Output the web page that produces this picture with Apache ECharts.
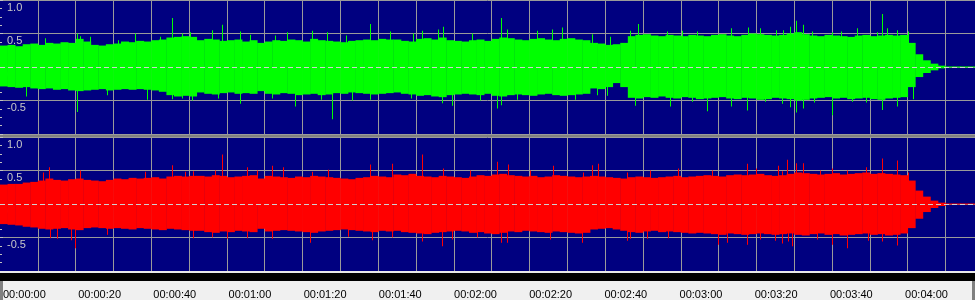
<!DOCTYPE html>
<html>
<head>
<meta charset="utf-8">
<script src="https://cdn.jsdelivr.net/npm/echarts@6/dist/echarts.min.js"></script>
<style>
html,body{margin:0;padding:0;background:#808080;}
#chart{width:975px;height:300px;}
</style>
</head>
<body>
<div id="chart"></div>
<script>
// ---- DATA ----
const BIN_SECONDS = 2;          // each envelope value covers 2 s of audio
const AXIS_MAX_SECONDS = 257.8; // visible time span

const tickLabels = ['00:00:00','00:00:20','00:00:40','00:01:00','00:01:20','00:01:40','00:02:00',
                    '00:02:20','00:02:40','00:03:00','00:03:20','00:03:40','00:04:00'];

// Left channel (green) envelope, per 2-second bin
const greenTop = [
 0.32,0.33,0.31,0.34,0.35,0.33,0.36,0.35,0.37,0.36,0.42,0.38,0.33,0.32,0.34,0.35,0.38,0.37,0.39,0.38,0.40,0.41,0.44,0.45,0.46,0.45,
 0.40,0.42,0.41,0.39,0.40,0.41,0.38,0.40,0.36,0.38,0.40,0.39,0.41,0.40,0.38,0.42,0.40,0.39,0.38,0.37,0.39,0.40,0.41,0.40,0.42,0.41,
 0.41,0.39,0.38,0.42,0.43,0.41,0.44,0.40,0.39,0.38,0.40,0.41,0.39,0.42,0.44,0.43,0.41,0.40,0.42,0.43,0.41,0.40,0.42,0.43,0.41,0.40,
 0.36,0.35,0.33,0.34,0.36,0.46,0.48,0.49,0.47,0.46,0.48,0.47,0.46,0.48,0.47,0.46,0.48,0.49,0.47,0.46,0.48,0.50,0.49,0.48,0.47,0.48,
 0.50,0.52,0.49,0.47,0.46,0.48,0.47,0.46,0.45,0.47,0.48,0.46,0.47,0.48,0.47,0.48,0.36,0.19,0.10,0.05,0.02,0.008,0.008,0.008,0.008,0.008
];
const greenBottom = [
 -0.29,-0.30,-0.31,-0.30,-0.32,-0.33,-0.32,-0.34,-0.33,-0.35,-0.36,-0.35,-0.34,-0.33,-0.35,-0.34,-0.33,-0.34,-0.33,-0.34,-0.35,-0.37,-0.42,-0.44,-0.43,-0.44,
 -0.38,-0.40,-0.41,-0.39,-0.38,-0.40,-0.39,-0.40,-0.36,-0.40,-0.41,-0.39,-0.40,-0.42,-0.41,-0.40,-0.42,-0.41,-0.39,-0.40,-0.38,-0.39,-0.40,-0.41,-0.40,-0.39,
 -0.38,-0.40,-0.41,-0.43,-0.42,-0.44,-0.45,-0.42,-0.41,-0.40,-0.41,-0.42,-0.40,-0.43,-0.44,-0.42,-0.41,-0.42,-0.43,-0.41,-0.40,-0.42,-0.43,-0.42,-0.41,-0.40,
 -0.32,-0.33,-0.30,-0.24,-0.30,-0.46,-0.47,-0.45,-0.46,-0.44,-0.46,-0.47,-0.45,-0.46,-0.48,-0.47,-0.46,-0.45,-0.47,-0.48,-0.46,-0.47,-0.49,-0.48,-0.46,-0.47,
 -0.48,-0.50,-0.49,-0.47,-0.46,-0.45,-0.47,-0.46,-0.48,-0.47,-0.46,-0.48,-0.49,-0.47,-0.46,-0.45,-0.30,-0.15,-0.09,-0.05,-0.02,-0.008,-0.008,-0.008,-0.008,-0.008
];
// Right channel (red) envelope, per 2-second bin
const redTop = [
 0.29,0.30,0.30,0.32,0.33,0.35,0.38,0.36,0.35,0.37,0.38,0.36,0.35,0.34,0.36,0.38,0.37,0.39,0.38,0.39,0.40,0.38,0.41,0.42,0.41,0.42,
 0.42,0.41,0.43,0.42,0.40,0.41,0.42,0.43,0.38,0.42,0.41,0.40,0.39,0.41,0.40,0.42,0.41,0.40,0.39,0.38,0.37,0.39,0.40,0.42,0.41,0.40,
 0.44,0.43,0.45,0.42,0.41,0.40,0.42,0.41,0.40,0.39,0.41,0.43,0.42,0.44,0.45,0.43,0.42,0.41,0.42,0.40,0.41,0.43,0.42,0.41,0.40,0.41,
 0.42,0.41,0.40,0.39,0.38,0.40,0.41,0.40,0.39,0.40,0.41,0.42,0.40,0.41,0.42,0.43,0.42,0.41,0.43,0.44,0.43,0.44,0.45,0.43,0.42,0.43,
 0.45,0.47,0.46,0.45,0.44,0.45,0.46,0.44,0.45,0.46,0.47,0.45,0.46,0.45,0.44,0.43,0.35,0.20,0.11,0.05,0.02,0.008,0.008,0.008,0.008,0.008
];
const redBottom = [
 -0.30,-0.31,-0.32,-0.34,-0.35,-0.37,-0.38,-0.37,-0.36,-0.38,-0.39,-0.36,-0.35,-0.36,-0.37,-0.36,-0.37,-0.38,-0.36,-0.37,-0.38,-0.39,-0.37,-0.38,-0.39,-0.40,
 -0.40,-0.42,-0.43,-0.41,-0.42,-0.40,-0.41,-0.42,-0.37,-0.41,-0.40,-0.39,-0.40,-0.41,-0.42,-0.43,-0.41,-0.40,-0.39,-0.38,-0.39,-0.40,-0.41,-0.42,-0.40,-0.41,
 -0.40,-0.42,-0.43,-0.44,-0.45,-0.43,-0.42,-0.41,-0.40,-0.41,-0.43,-0.42,-0.44,-0.45,-0.43,-0.41,-0.42,-0.40,-0.41,-0.42,-0.43,-0.41,-0.42,-0.43,-0.44,-0.43,
 -0.38,-0.37,-0.36,-0.38,-0.40,-0.42,-0.43,-0.41,-0.40,-0.42,-0.41,-0.42,-0.43,-0.44,-0.43,-0.44,-0.45,-0.46,-0.44,-0.45,-0.46,-0.45,-0.44,-0.45,-0.46,-0.45,
 -0.44,-0.46,-0.47,-0.45,-0.44,-0.46,-0.45,-0.47,-0.46,-0.45,-0.44,-0.46,-0.45,-0.47,-0.46,-0.44,-0.36,-0.22,-0.12,-0.06,-0.03,-0.008,-0.008,-0.008,-0.008,-0.008
];

// Individual peaks sticking out of the envelope: [seconds, amplitude]
const greenPeaksUp = [[11.9,0.43],[20.3,0.50],[21.1,0.46],[23.8,0.45],[31.3,0.40],[35.7,0.50],[42.3,0.45],[45.4,0.73],[48.0,0.50],[50.2,0.52],
 [56.0,0.55],[58.6,0.63],[63.5,0.53],[66.1,0.48],[72.7,0.47],[75.8,0.52],[82.4,0.54],[86.4,0.52],[91.6,0.47],[97.8,0.64],[103.0,0.53],
 [109.3,0.50],[111.5,0.54],[115.9,0.56],[117.2,0.60],[124.7,0.50],[132.6,0.73],[134.0,0.56],[141.9,0.54],[145.9,0.56],[148.5,0.59],
 [156.4,0.49],[161.3,0.45],[166.6,0.54],[168.8,0.64],[176.3,0.53],[180.2,0.54],[184.2,0.53],[193.4,0.58],[197.9,0.59],[200.9,0.58],[205.3,0.55],
 [207.1,0.55],[208.9,0.60],[210.5,0.69],[212.2,0.63],[214.6,0.53],[219.9,0.52],[222.5,0.53],[226.7,0.58],[231.8,0.52],[233.3,0.79],[234.6,0.58],[237.1,0.55],[240.2,0.53]];
const greenPeaksDown = [[7.0,-0.44],[20.3,-0.67],[28.2,-0.42],[38.8,-0.49],[45.4,-0.48],[48.0,-0.47],[50.7,-0.50],[57.7,-0.47],[63.5,-0.55],[71.8,-0.47],
 [78.0,-0.59],[85.0,-0.49],[87.9,-0.78],[93.0,-0.50],[97.8,-0.49],[108.8,-0.47],[116.8,-0.54],[119.4,-0.58],[126.9,-0.50],[131.3,-0.62],[132.6,-0.57],
 [136.6,-0.49],[152.0,-0.49],[157.8,-0.42],[160.4,-0.43],[167.9,-0.58],[177.1,-0.59],[182.9,-0.52],[187.0,-0.66],[193.2,-0.59],[197.6,-0.65],[202.2,-0.52],
 [206.7,-0.55],[208.9,-0.60],[210.5,-0.68],[212.2,-0.62],[215.1,-0.53],[220.1,-0.72],[225.2,-0.52],[229.1,-0.53],[233.1,-0.64],[237.1,-0.59],[241.3,-0.48]];
const redPeaksUp = [[11.5,0.47],[13.0,0.55],[21.1,0.50],[38.3,0.48],[45.4,0.58],[48.9,0.48],[51.1,0.49],[56.8,0.50],[58.6,0.74],[65.2,0.55],[67.9,0.50],
 [71.8,0.57],[74.9,0.55],[82.4,0.48],[86.8,0.51],[97.8,0.59],[103.6,0.60],[111.5,0.74],[117.2,0.53],[124.3,0.50],[131.3,0.63],[134.4,0.59],[140.1,0.50],
 [146.3,0.57],[154.2,0.47],[156.4,0.58],[158.2,0.60],[165.7,0.47],[171.9,0.50],[179.2,0.53],[188.2,0.50],[197.6,0.60],[200.0,0.53],[205.8,0.57],
 [206.7,0.49],[208.2,0.66],[210.5,0.61],[212.2,0.61],[216.8,0.50],[219.9,0.53],[223.9,0.50],[229.0,0.55],[233.3,0.68],[237.1,0.65],[240.2,0.47]];
const redPeaksDown = [[13.2,-0.51],[15.0,-0.52],[18.9,-0.54],[19.8,-0.66],[28.2,-0.46],[51.1,-0.51],[56.0,-0.50],[60.0,-0.52],[65.2,-0.51],[71.8,-0.52],
 [82.0,-0.58],[92.1,-0.49],[98.3,-0.54],[103.6,-0.50],[111.5,-0.56],[116.8,-0.63],[119.4,-0.53],[126.0,-0.50],[132.6,-0.58],[134.0,-0.58],[145.4,-0.53],
 [153.8,-0.58],[165.7,-0.55],[166.6,-0.52],[171.0,-0.52],[176.7,-0.51],[189.9,-0.61],[192.3,-0.58],[197.6,-0.61],[200.9,-0.53],[204.9,-0.55],
 [206.7,-0.59],[208.4,-0.56],[209.3,-0.63],[215.9,-0.53],[220.1,-0.61],[223.9,-0.66],[229.6,-0.55],[233.1,-0.56],[237.1,-0.62]];

// ---- BUILD ----
function envelope(top, bottom) {
  return top.map((v, i) => [i * BIN_SECONDS, bottom[i], v]);
}
function peaks(up, down) {
  return up.concat(down);
}
function renderBin(params, api) {
  const t = api.value(0), lo = api.value(1), hi = api.value(2);
  const a = api.coord([t, hi]);
  const b = api.coord([t + BIN_SECONDS, lo]);
  return {
    type: 'rect',
    shape: { x: a[0], y: a[1], width: b[0] - a[0] + 0.4, height: Math.max(1, b[1] - a[1]) },
    style: { fill: api.visual('color') }
  };
}
function renderPeak(params, api) {
  const t = api.value(0), v = api.value(1);
  const z = api.coord([t, 0]);
  const p = api.coord([t, v]);
  const y0 = Math.min(z[1], p[1]), y1 = Math.max(z[1], p[1]);
  return {
    type: 'rect',
    shape: { x: Math.round(p[0]), y: y0, width: 1, height: y1 - y0 },
    style: { fill: api.visual('color') }
  };
}
const FONT = "'Liberation Sans', Arial, sans-serif";
const gridLine = '#9a9a9a';
const zeroLine = {
  silent: true, symbol: 'none', label: { show: false },
  lineStyle: { color: '#d0d0d0', type: [5, 3], width: 1 },
  data: [{ yAxis: 0 }]
};

function chanX(i) {
  return {
    type: 'value', gridIndex: i, min: 0, max: AXIS_MAX_SECONDS, interval: 10,
    axisLine: { show: false }, axisTick: { show: false }, axisLabel: { show: false },
    splitLine: { show: true, showMinLine: false, showMaxLine: false, lineStyle: { color: gridLine, width: 1 } }
  };
}
function chanY(i) {
  return {
    type: 'value', gridIndex: i, min: -1, max: 1, interval: 0.5,
    axisLine: { show: false },
    axisTick: { show: true, inside: true, length: 3, lineStyle: { color: '#c0c0c0' } },
    minorTick: { show: true, splitNumber: 4, length: 2, lineStyle: { color: '#c0c0c0' } },
    axisLabel: {
      inside: true, margin: 7, align: 'left', verticalAlign: 'top', padding: [2, 0, 0, 0],
      color: '#c8c8c8', fontSize: 11, fontFamily: FONT,
      formatter: v => (v <= -1 ? '' : v.toFixed(1))
    },
    splitLine: { show: true, lineStyle: { color: gridLine, width: 1 } }
  };
}

const option = {
  backgroundColor: '#808080',
  animation: false,
  grid: [
    { left: 0, right: 0, top: 0, height: 134, show: true, backgroundColor: '#000080', borderWidth: 0 },
    { left: 0, right: 0, top: 137, height: 134, show: true, backgroundColor: '#000080', borderWidth: 0 },
    { left: 0, right: 0, top: 281, height: 19, show: true, backgroundColor: '#f0f0f0', borderWidth: 0 }
  ],
  xAxis: [
    chanX(0), chanX(1),
    {
      type: 'value', gridIndex: 2, position: 'top', min: 0, max: AXIS_MAX_SECONDS, interval: 10,
      axisLine: { show: false },
      axisTick: { show: true, inside: true, length: 6, lineStyle: { color: '#000' } },
      minorTick: { show: true, splitNumber: 5, length: 2, lineStyle: { color: '#000' } },
      splitLine: { show: false },
      axisLabel: {
        show: true, inside: true, margin: 8, align: 'left', verticalAlign: 'top', color: '#000', fontSize: 11, fontFamily: FONT,
        formatter: v => (Math.abs(v % 20) < 1e-6 ? (tickLabels[Math.round(v / 20)] || '') : '')
      }
    }
  ],
  yAxis: [chanY(0), chanY(1), { type: 'value', gridIndex: 2, show: false }],
  graphic: [
    { type: 'rect', z: 100, shape: { x: 0, y: 271, width: 975, height: 2 }, style: { fill: '#e8e8e8' } },
    { type: 'rect', z: 100, shape: { x: 0, y: 273, width: 975, height: 8 }, style: { fill: '#000000' } }
  ],
  series: [
    { type: 'custom', name: 'L', xAxisIndex: 0, yAxisIndex: 0, clip: true, z: 2,
      itemStyle: { color: '#00ff00' }, encode: { x: 0, y: [1, 2] },
      renderItem: renderBin, data: envelope(greenTop, greenBottom) },
    { type: 'custom', name: 'Lp', xAxisIndex: 0, yAxisIndex: 0, clip: true, z: 3,
      itemStyle: { color: '#00ff00' }, encode: { x: 0, y: 1 },
      renderItem: renderPeak, data: peaks(greenPeaksUp, greenPeaksDown), markLine: zeroLine },
    { type: 'custom', name: 'R', xAxisIndex: 1, yAxisIndex: 1, clip: true, z: 2,
      itemStyle: { color: '#ff0000' }, encode: { x: 0, y: [1, 2] },
      renderItem: renderBin, data: envelope(redTop, redBottom) },
    { type: 'custom', name: 'Rp', xAxisIndex: 1, yAxisIndex: 1, clip: true, z: 3,
      itemStyle: { color: '#ff0000' }, encode: { x: 0, y: 1 },
      renderItem: renderPeak, data: peaks(redPeaksUp, redPeaksDown), markLine: zeroLine }
  ]
};
const chart = echarts.init(document.getElementById('chart'), null, { renderer: 'canvas' });
chart.setOption(option);
</script>
</body>
</html>
